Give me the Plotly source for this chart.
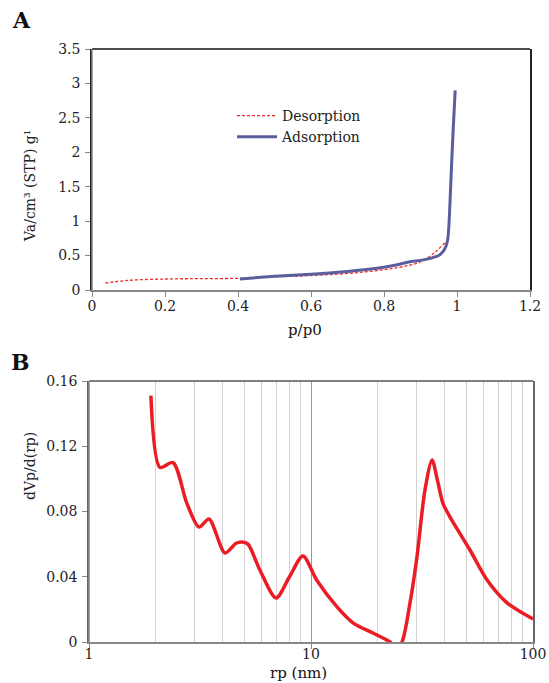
import plotly.graph_objects as go

# Panel A: isotherm
des_x = [0.036, 0.10, 0.205, 0.30, 0.405, 0.50, 0.60, 0.70, 0.76, 0.82, 0.87, 0.90, 0.94, 0.975]
des_y = [0.10, 0.14, 0.16, 0.165, 0.17, 0.19, 0.21, 0.24, 0.27, 0.31, 0.36, 0.41, 0.55, 0.73]
ads_x = [0.405, 0.50, 0.60, 0.70, 0.80, 0.84, 0.87, 0.90, 0.927, 0.950, 0.962, 0.970, 0.975, 0.978, 0.981, 0.985, 0.989, 0.995]
ads_y = [0.16, 0.20, 0.23, 0.27, 0.33, 0.37, 0.41, 0.43, 0.46, 0.50, 0.56, 0.64, 0.75, 0.95, 1.30, 1.80, 2.27, 2.90]

# Panel B: pore size distribution
rp = [1.90, 2.09, 2.39, 2.76, 3.13, 3.47, 4.10, 4.60, 4.89, 5.2, 5.89, 6.96, 8.0, 9.2, 10.6, 13.1, 15.5, 19.0, 22.7, 24.2, 25.7, 28.0, 30.0, 32.6, 35.1, 37.0, 39.3, 42.3, 52.0, 62.1, 76.4, 100]
dvp = [0.151, 0.107, 0.110, 0.085, 0.0705, 0.0754, 0.0546, 0.0605, 0.0613, 0.060, 0.044, 0.027, 0.040, 0.0527, 0.038, 0.0215, 0.0116, 0.0055, 0.0, -0.004, 0.0, 0.025, 0.052, 0.093, 0.1116, 0.100, 0.085, 0.0766, 0.0564, 0.038, 0.024, 0.0141]

FONT = "DejaVu Serif"
W, H = 549, 683

def px_x(p):
    return p / W

def px_y(p):
    return 1 - p / H

fig = go.Figure()
fig.add_trace(go.Scatter(x=des_x, y=des_y, mode="lines", name="Desorption",
                         line=dict(color="#ee2a2a", width=1.3, dash="3px,2px", shape="spline"),
                         xaxis="x", yaxis="y"))
fig.add_trace(go.Scatter(x=ads_x, y=ads_y, mode="lines", name="Adsorption",
                         line=dict(color="#5b5e9c", width=3, shape="spline", smoothing=0.6),
                         xaxis="x", yaxis="y"))
fig.add_trace(go.Scatter(x=rp, y=dvp, mode="lines", showlegend=False,
                         line=dict(color="#ec1c24", width=3.5, shape="spline", smoothing=0.8),
                         xaxis="x2", yaxis="y2"))

minor_vals = [v * d for d in (1, 10) for v in range(2, 10)]

common = dict(automargin=False, zeroline=False, showline=True, linewidth=1.5,
              ticks="outside", ticklen=5, tickcolor="#888", ticklabeloverflow="allow")

fig.update_layout(
    width=W, height=H,
    margin=dict(l=0, r=0, t=0, b=0, autoexpand=False),
    paper_bgcolor="white", plot_bgcolor="white",
    font=dict(family=FONT, size=14, color="#222"),
    showlegend=True,
    legend=dict(x=px_x(232), y=px_y(100), xanchor="left", yanchor="top",
                bgcolor="rgba(0,0,0,0)", font=dict(family=FONT, size=14, color="#222"),
                tracegroupgap=0, itemwidth=40),
    xaxis=dict(domain=[px_x(92), px_x(530)], range=[0, 1.2], dtick=0.2, anchor="y",
               showgrid=False, ticklabelstandoff=-3, linecolor="#888", **common),
    yaxis=dict(domain=[px_y(290), px_y(49)], range=[0, 3.5], dtick=0.5, anchor="x",
               showgrid=False, ticklabelstandoff=2, linecolor="#222", mirror=True, **common),
    xaxis2=dict(domain=[px_x(89), px_x(533)], type="log", range=[0, 2], anchor="y2",
                tickvals=[1, 10, 100], ticktext=["1", "10", "100"],
                showgrid=True, gridcolor="#999", gridwidth=1,
                minor=dict(tickvals=minor_vals, showgrid=True, gridcolor="#d2d2d2", gridwidth=1, ticks=""),
                ticklabelstandoff=-7, linecolor="#888", **common),
    yaxis2=dict(domain=[px_y(642), px_y(381)], range=[0, 0.16], tickvals=[0, 0.04, 0.08, 0.12, 0.16],
                ticktext=["0", "0.04", "0.08", "0.12", "0.16"], anchor="x2",
                showgrid=False, ticklabelstandoff=2, linecolor="#666", mirror=True, **common),
)

# Frame borders: top edges, and left edges redrawn in gray
def seg(x0, y0, x1, y1, color, width):
    fig.add_shape(type="line", xref="paper", yref="paper",
                  x0=px_x(x0), y0=px_y(y0), x1=px_x(x1), y1=px_y(y1),
                  line=dict(color=color, width=width))

seg(92, 49, 530, 49, "#111", 1.5)
seg(92, 49, 92, 290, "#888", 1.5)
seg(89, 381, 533, 381, "#555", 1.3)
seg(89, 381, 89, 642, "#888", 1.5)

ann = [
    dict(text="<b>A</b>", x=px_x(10), y=px_y(20), xanchor="left", yanchor="middle", size=22),
    dict(text="<b>B</b>", x=px_x(9), y=px_y(362), xanchor="left", yanchor="middle", size=22),
    dict(text="p/p0", x=px_x(305), y=px_y(330), xanchor="center", yanchor="middle", size=15),
    dict(text="rp (nm)", x=px_x(298), y=px_y(673), xanchor="center", yanchor="middle", size=15),
]
for a in ann:
    fig.add_annotation(text=a["text"], x=a["x"], y=a["y"], xref="paper", yref="paper",
                       xanchor=a["xanchor"], yanchor=a["yanchor"], showarrow=False,
                       font=dict(family=FONT, size=a["size"], color="#111"))
fig.add_annotation(text="Va/cm³ (STP) g¹", x=px_x(20), y=px_y(128), xref="paper", yref="paper",
                   textangle=-90, showarrow=False, font=dict(family=FONT, size=14, color="#222"))
fig.add_annotation(text="dVp/d(rp)", x=px_x(20), y=px_y(502), xref="paper", yref="paper",
                   textangle=-90, showarrow=False, font=dict(family=FONT, size=14, color="#222"))

fig.write_html(
    "out.html",
    config={"displayModeBar": False},
    post_script="document.body.style.margin='0';document.body.style.overflow='hidden';",
)
